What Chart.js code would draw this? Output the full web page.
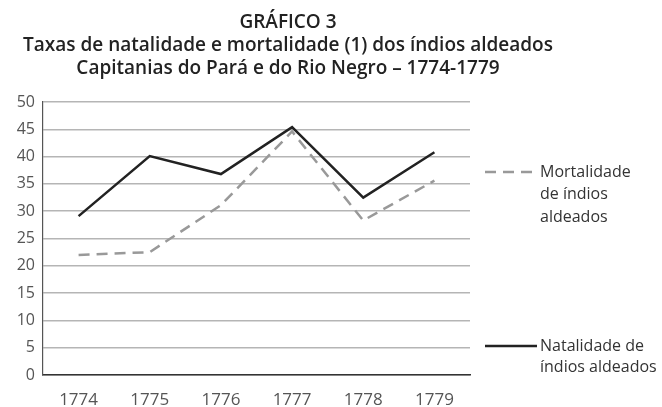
<!DOCTYPE html>
<html lang="pt">
<head>
    <meta charset="UTF-8">
    <title>Gráfico 3</title>
    <script src="https://cdn.jsdelivr.net/npm/chart.js"></script>
    <style>
        body { margin: 0; background: #fff; }
    </style>
</head>
<body>
    <canvas id="grafico" width="662" height="407"></canvas>

    <script>
        // dados
        var anos = ['1774', '1775', '1776', '1777', '1778', '1779'];
        var natalidade = [29.1, 40.1, 36.8, 45.4, 32.5, 40.8];
        var mortalidade = [22.0, 22.5, 31.1, 44.6, 28.3, 35.6];
        var titulo = [
            'GRÁFICO 3',
            'Taxas de natalidade e mortalidade (1) dos índios aldeados',
            'Capitanias do Pará e do Rio Negro – 1774-1779'
        ];
        var legendaMortalidade = ['Mortalidade', 'de índios', 'aldeados'];
        var legendaNatalidade = ['Natalidade de', 'índios aldeados'];

        var fonte = '"Open Sans", sans-serif';

        // título e legenda desenhados à mão
        var textos = {
            id: 'textos',
            afterDraw: function (chart) {
                var c = chart.ctx;
                var area = chart.chartArea;
                c.save();
                c.fillStyle = '#222';
                c.textAlign = 'center';
                c.textBaseline = 'middle';
                c.font = '600 19px ' + fonte;
                for (var i = 0; i < titulo.length; i++) {
                    c.fillText(titulo[i], 288, 23 + i * 23);
                }

                // legenda
                var x0 = area.right + 15, x1 = area.right + 67;
                c.font = '16px ' + fonte;
                c.textAlign = 'left';
                c.fillStyle = '#333';

                c.strokeStyle = '#999';
                c.lineWidth = 2.5;
                c.setLineDash([11, 7]);
                c.beginPath();
                c.moveTo(x0, 172); c.lineTo(x1, 172);
                c.stroke();
                for (var j = 0; j < legendaMortalidade.length; j++) {
                    c.fillText(legendaMortalidade[j], x1 + 3, 172 + j * 22.5);
                }

                c.setLineDash([]);
                c.strokeStyle = '#222';
                c.beginPath();
                c.moveTo(x0, 346); c.lineTo(x1, 346);
                c.stroke();
                for (var k = 0; k < legendaNatalidade.length; k++) {
                    c.fillText(legendaNatalidade[k], x1 + 3, 346 + k * 21.5);
                }
                c.restore();
            }
        };

        var ctx = document.getElementById('grafico').getContext('2d');
        var grafico = new Chart(ctx, {
            type: 'line',
            data: {
                labels: anos,
                datasets: [{
                    label: 'Natalidade de índios aldeados',
                    data: natalidade,
                    borderColor: '#222',
                    borderWidth: 2.5,
                    pointRadius: 0,
                    tension: 0
                }, {
                    label: 'Mortalidade de índios aldeados',
                    data: mortalidade,
                    borderColor: '#999',
                    borderWidth: 2.5,
                    borderDash: [11, 7],
                    pointRadius: 0,
                    tension: 0
                }]
            },
            options: {
                responsive: false,
                animation: false,
                layout: {
                    padding: { top: 102, right: 192, bottom: 0, left: 0 }
                },
                plugins: {
                    legend: { display: false },
                    title: { display: false },
                    tooltip: { enabled: false }
                },
                scales: {
                    x: {
                        offset: true,
                        grid: { display: false, drawTicks: false },
                        border: { color: '#333', width: 1.5 },
                        ticks: {
                            color: '#555',
                            padding: 15,
                            font: { family: fonte, size: 17 }
                        },
                        afterFit: function (scale) { scale.height = 32; }
                    },
                    y: {
                        min: 0,
                        max: 50,
                        ticks: {
                            stepSize: 5,
                            color: '#555',
                            padding: 8,
                            font: { family: fonte, size: 16 }
                        },
                        grid: { color: '#b5b5b5', lineWidth: 1.5, drawTicks: false },
                        border: { color: '#555', width: 1.2 },
                        afterFit: function (scale) { scale.width = 43; }
                    }
                }
            },
            plugins: [textos]
        });
    </script>
</body>
</html>
